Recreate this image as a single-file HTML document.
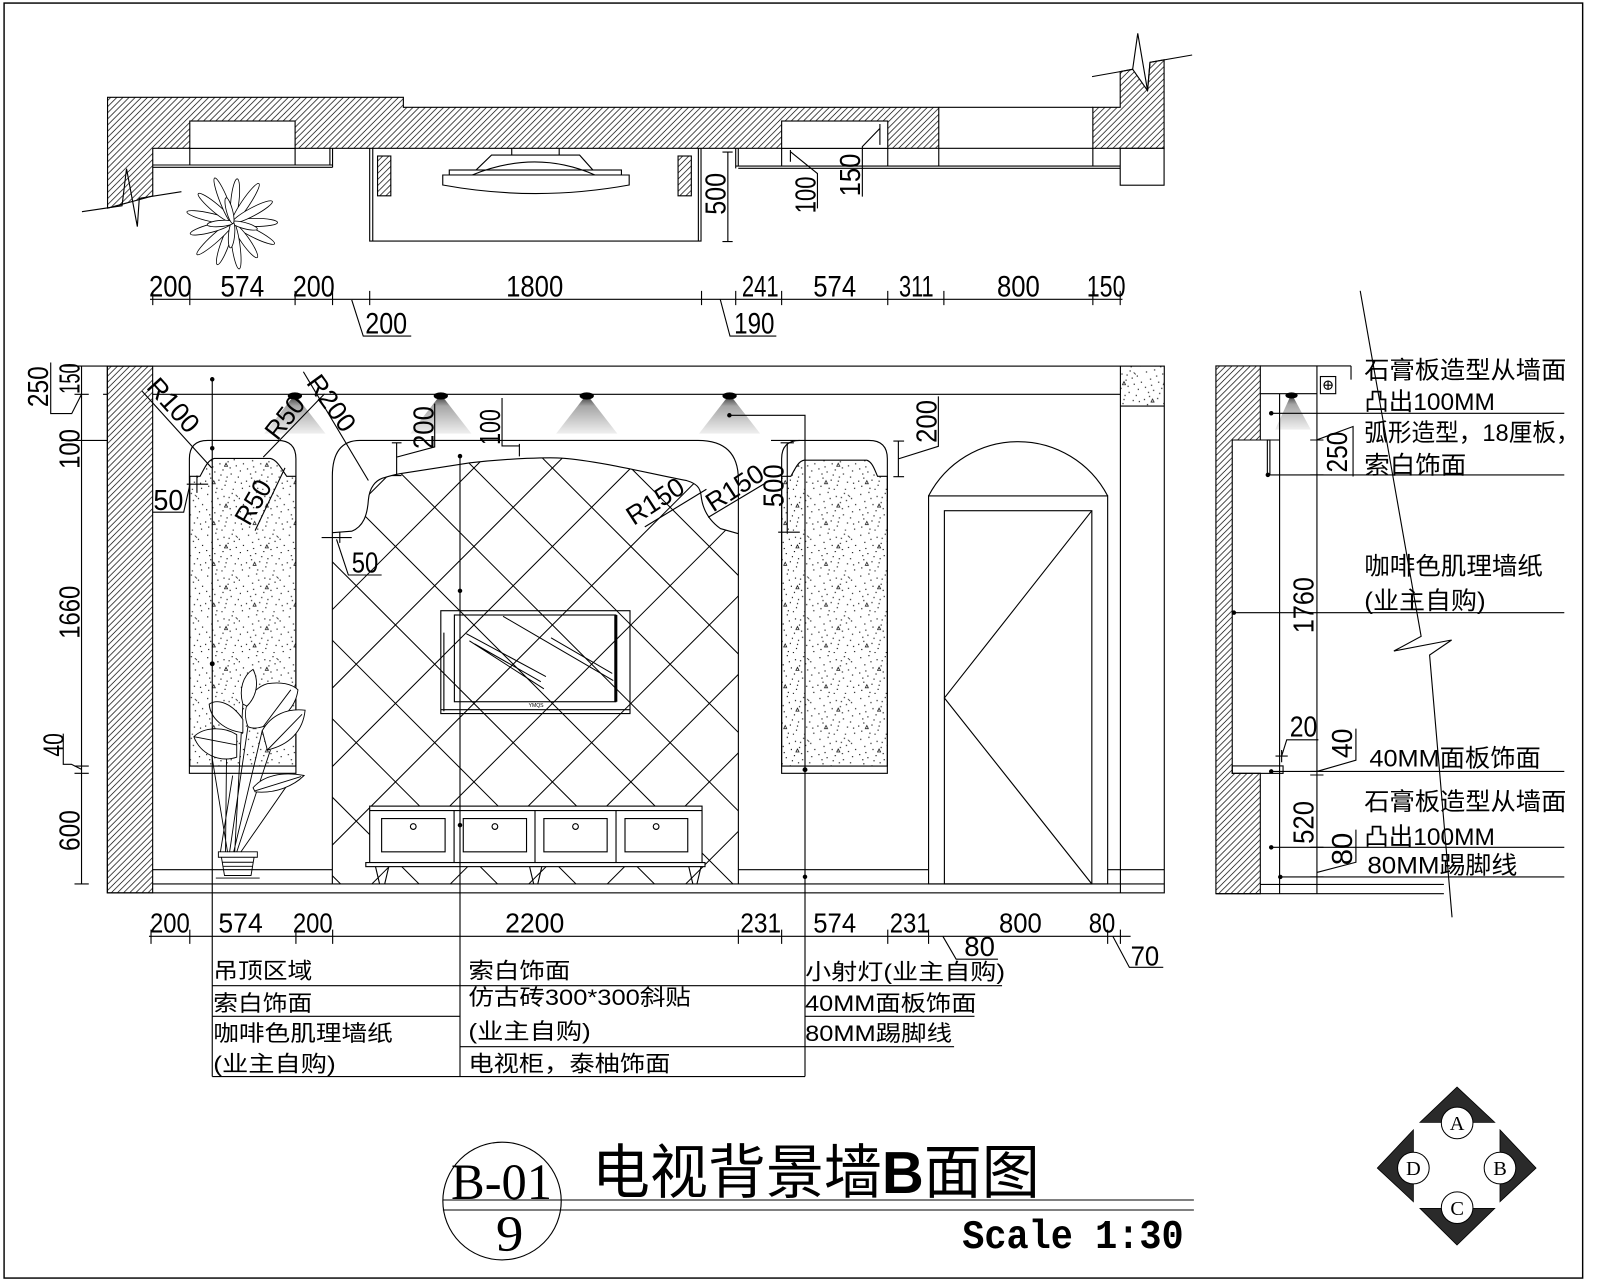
<!DOCTYPE html>
<html><head><meta charset="utf-8">
<style>
html,body{margin:0;padding:0;background:#fff;}
svg{display:block;}
text{font-family:"Liberation Sans","Noto Sans CJK SC",sans-serif;fill:#000;stroke:none;}
.cj{font-family:"Liberation Sans","Noto Sans CJK SC",sans-serif;}
</style></head><body>
<svg width="1600" height="1280" viewBox="0 0 1568 1254.4" preserveAspectRatio="none" xmlns="http://www.w3.org/2000/svg">
<defs>
<pattern id="h" width="6" height="6" patternUnits="userSpaceOnUse"><path d="M-1,1L1,-1M0,6L6,0M5,7L7,5" stroke="#000" stroke-width="0.7" fill="none"/></pattern>
<pattern id="st" width="40" height="40" patternUnits="userSpaceOnUse">
<g fill="#000">
<rect x="3" y="4" width="1.1" height="1.1"/><rect x="11" y="2" width="1.1" height="1.1"/><rect x="19" y="6" width="1.1" height="1.1"/><rect x="27" y="3" width="1.1" height="1.1"/><rect x="34" y="8" width="1.1" height="1.1"/><rect x="7" y="11" width="1.1" height="1.1"/><rect x="15" y="14" width="1.1" height="1.1"/><rect x="23" y="12" width="1.1" height="1.1"/><rect x="31" y="16" width="1.1" height="1.1"/><rect x="2" y="19" width="1.1" height="1.1"/><rect x="10" y="22" width="1.1" height="1.1"/><rect x="18" y="20" width="1.1" height="1.1"/><rect x="26" y="24" width="1.1" height="1.1"/><rect x="35" y="21" width="1.1" height="1.1"/><rect x="6" y="28" width="1.1" height="1.1"/><rect x="14" y="30" width="1.1" height="1.1"/><rect x="22" y="27" width="1.1" height="1.1"/><rect x="30" y="32" width="1.1" height="1.1"/><rect x="4" y="36" width="1.1" height="1.1"/><rect x="12" y="38" width="1.1" height="1.1"/><rect x="20" y="35" width="1.1" height="1.1"/><rect x="28" y="39" width="1.1" height="1.1"/><rect x="36" y="33" width="1.1" height="1.1"/><rect x="8" y="17" width="1.1" height="1.1"/><rect x="24" y="7" width="1.1" height="1.1"/><rect x="16" y="25" width="1.1" height="1.1"/><rect x="33" y="27" width="1.1" height="1.1"/><rect x="1" y="31" width="1.1" height="1.1"/><rect x="17" y="39" width="1.1" height="1.1"/><rect x="29" y="10" width="1.1" height="1.1"/><rect x="38" y="14" width="1.1" height="1.1"/><rect x="13" y="8" width="1.1" height="1.1"/><rect x="25" y="18" width="1.1" height="1.1"/><rect x="37" y="38" width="1.1" height="1.1"/><rect x="5" y="24" width="1.1" height="1.1"/><rect x="21" y="31" width="1.1" height="1.1"/>
</g>
<path d="M20,17l3,0l-1.5,-3zM8,34l3,0l-1.5,-3zM31,5l2,2" fill="none" stroke="#000" stroke-width="0.7"/>
</pattern>
<linearGradient id="cg" x1="0" y1="0" x2="0" y2="1"><stop offset="0" stop-color="#000" stop-opacity="0.85"/><stop offset="0.3" stop-color="#000" stop-opacity="0.35"/><stop offset="1" stop-color="#000" stop-opacity="0.06"/></linearGradient>
<clipPath id="tc"><path d="M325.7,866.3 L325.7,522 L344.7,520.6 C356,516 360,505 361,490 C362,478 368,470 377,468 C383,466 388,465 392,464.2 L460.6,453.6 C500,449 540,448 551,449 C590,452 640,465 673,471 C683,474 686,478 687,485 C688,496 692,508 706,518 L723.6,523 L723.6,866.3 Z"/></clipPath>
</defs>

<rect x="0" y="0" width="1568" height="1254.4" fill="#fff"/>
<!-- border -->
<rect x="4" y="3" width="1547" height="1249.5" fill="none" stroke="#000" stroke-width="1.4"/>

<g fill="none" stroke="#000" stroke-width="1.1">
<!-- ================= TOP PLAN ================= -->
<path d="M105.4,95.4 H395.3 V105.2 H920 V145.4 H149.7 V192 L105.4,204 Z" fill="url(#h)"/>
<path d="M1071,105.2 H1097.8 V70.2 L1110,67.9 L1124.6,88.8 L1127,61.1 L1140.8,58.6 V145.4 H1071 Z" fill="url(#h)"/>
<path d="M920,105.2 H1071 M920,145.4 H1071"/>
<rect x="186" y="118.6" width="103.2" height="26.8" fill="#fff"/>
<rect x="766" y="118.6" width="104" height="26.8" fill="#fff"/>
<rect x="1097.8" y="145.4" width="43" height="36.1" fill="#fff"/>
<path d="M80.3,207.4 L119.6,201.6 L124,165.3 L134.6,222.1 L136.5,194.4 L177.8,187.9"/>
<path d="M1070.2,75.1 L1097.8,70.2 L1110,67.9 L1115,32.7 L1124.6,88.8 L1127,61.1 L1168.3,53.9"/>
<!-- left cabinet plan -->
<path d="M149.7,161.7 H325.9 M149.7,164 H325.9 M323.3,145.4 V161.7 M325.9,145.4 V164 M186,145.4 V161.7 M289.2,145.4 V161.7"/>
<!-- right cabinet plan -->
<path d="M721,162.7 H1097.8 M723.5,165 H1097.8 M721,145.4 V165 M723.5,145.4 V162.7 M766,145.4 V162.7 M870,145.4 V162.7 M920,145.4 V162.7 M1071,145.4 V162.7"/>
<!-- tv unit plan -->
<path d="M362.3,145.4 V236.3 H687 V145.4 M365.3,145.4 V236.3 M684.4,145.4 V236.3"/>
<path d="M501.5,145.4 V152 M548,145.4 V152 M481.7,152 H568 L581,166.6 H466.6 Z"/>
<rect x="440.3" y="166.6" width="168.7" height="4.9"/>
<path d="M433.9,171.5 H616.6 V181.3 Q525,198 433.9,181.3 Z" fill="#fff"/>
<path d="M462.8,171.5 Q525,146 583,171.5"/>
<rect x="370" y="152.9" width="13" height="39" fill="url(#h)"/>
<rect x="664.5" y="152.9" width="13" height="39" fill="url(#h)"/>
<!-- plan plant -->
<g transform="translate(228,218)" stroke-width="0.8" fill="#fff">
<ellipse cx="22" cy="0" rx="22" ry="4" transform="rotate(0)"/>
<ellipse cx="22" cy="0" rx="24" ry="4" transform="rotate(27)"/>
<ellipse cx="22" cy="0" rx="20" ry="4" transform="rotate(55)"/>
<ellipse cx="22" cy="0" rx="24" ry="4" transform="rotate(82)"/>
<ellipse cx="22" cy="0" rx="22" ry="4" transform="rotate(110)"/>
<ellipse cx="22" cy="0" rx="25" ry="4" transform="rotate(138)"/>
<ellipse cx="22" cy="0" rx="21" ry="4" transform="rotate(165)"/>
<ellipse cx="22" cy="0" rx="24" ry="4" transform="rotate(193)"/>
<ellipse cx="22" cy="0" rx="22" ry="4" transform="rotate(220)"/>
<ellipse cx="22" cy="0" rx="25" ry="4" transform="rotate(248)"/>
<ellipse cx="22" cy="0" rx="21" ry="4" transform="rotate(276)"/>
<ellipse cx="22" cy="0" rx="24" ry="4" transform="rotate(304)"/>
<ellipse cx="22" cy="0" rx="22" ry="4" transform="rotate(332)"/>
<ellipse cx="12" cy="0" rx="13" ry="3" transform="rotate(15)"/>
<ellipse cx="12" cy="0" rx="13" ry="3" transform="rotate(95)"/>
<ellipse cx="12" cy="0" rx="13" ry="3" transform="rotate(175)"/>
<ellipse cx="12" cy="0" rx="13" ry="3" transform="rotate(255)"/>
</g>
<!-- plan dims -->
<path d="M713.3,149 V236.7 M708,149 H718 M708,236.7 H718"/>
<path d="M774.6,147 V158.5 M774.6,148.6 L801.1,170.1 V204.2"/>
<path d="M862.3,121.5 V142 M862.3,125.8 L845.1,143.7 V192.7"/>
<path d="M147,293.3 H1100"/>
<path d="M149.7,285 V299 M186,285 V299 M289.2,285 V299 M325.9,285 V299 M362.3,285 V299 M687.5,285 V299 M721,285 V299 M766,285 V299 M870,285 V299 M925,285 V299 M1071,285 V299 M1097.8,285 V299"/>
<path d="M344.7,293.9 L356,329.4 H403 M705.8,293.3 L715.4,329.4 H760.8"/>

<!-- ================= MAIN ELEVATION ================= -->
<!-- tiles -->
<g clip-path="url(#tc)" stroke-width="1">
<path d="M300,832.5L740,1272.5M300,755.6L740,1195.6M300,678.7L740,1118.7M300,601.8L740,1041.8M300,524.9L740,964.9M300,448L740,888M300,371.1L740,811.1M300,294.2L740,734.2M300,217.3L740,657.3M300,140.4L740,580.4M300,63.5L740,503.5"/>
<path d="M300,469.3L740,29.3M300,546.2L740,106.2M300,623.1L740,183.1M300,700L740,260M300,776.9L740,336.9M300,853.8L740,413.8M300,930.7L740,490.7M300,1007.6L740,567.6M300,1084.5L740,644.5M300,1161.4L740,721.4M300,1238.3L740,798.3"/>
</g>
<rect x="105.2" y="358.8" width="1035.8" height="516.2"/>
<rect x="105.2" y="358.8" width="44.4" height="516.2" fill="url(#h)"/>
<path d="M149.6,386.4 H1098 M1098,358.8 V875 M1098,398 H1141"/>
<rect x="1098" y="358.8" width="43" height="39.2" fill="url(#st)" stroke="none"/>
<path d="M149.6,866.3 H1141 M149.6,852.3 H325.7 M723.6,852.3 H910 M1085.5,852.3 H1141"/>
<!-- arch -->
<path d="M325.7,866.3 V466.8 Q325.7,431.6 352.8,431.6 H684 Q723.6,431.6 723.6,470 V866.3"/>
<path d="M325.7,522 L344.7,520.6 C356,516 360,505 361,490 C362,478 368,470 377,468 C383,466 388,465 392,464.2 L460.6,453.6 C500,449 540,448 551,449 C590,452 640,465 673,471 C683,474 686,478 687,485 C688,496 692,508 706,518 L723.6,523"/>
<!-- left column -->
<path d="M185.6,757.8 V449.6 Q185.6,431.6 203.6,431.6 H272 Q290,431.6 290,449.6 V757.8 Z"/>
<path d="M186,466.8 L196,466.8 C200,460 203,451 210,449.3 L265,449.3 C272,451 276,460 281,466.8 L290,466.8 V750.8 H186 Z" fill="url(#st)"/>
<!-- right column -->
<path d="M766,757.8 V449.6 Q766,431.6 784,431.6 H851.6 Q869.6,431.6 869.6,449.6 V757.8 Z"/>
<path d="M766,466.8 L775,466.8 C779,460 782,452 788,451 L849.5,451 C855,453 857,460 860,466.8 L869.6,466.8 V750.8 H766 Z" fill="url(#st)"/>
<!-- cones -->
<g stroke="none">
<polygon points="289,386.4 259,425 319,425" fill="url(#cg)"/>
<polygon points="432,386.4 402,425 462,425" fill="url(#cg)"/>
<polygon points="575,386.4 545,425 605,425" fill="url(#cg)"/>
<polygon points="715,386.4 685,425 745,425" fill="url(#cg)"/>
<polygon points="1265.7,385.8 1249.7,421 1284.6,421" fill="url(#cg)"/>
<g fill="#000">
<ellipse cx="289" cy="388" rx="7" ry="3.5"/><ellipse cx="432" cy="388" rx="7" ry="3.5"/><ellipse cx="575" cy="388" rx="7" ry="3.5"/><ellipse cx="715" cy="388" rx="7" ry="3.5"/><ellipse cx="1265.7" cy="387.5" rx="6" ry="3"/>
</g>
</g>
<!-- TV -->
<rect x="432" y="598.5" width="185.4" height="100.8"/>
<rect x="445.3" y="602.7" width="158.2" height="85"/>
<path d="M603.5,602.7 V687.7" stroke-width="3"/>
<path d="M432,695.5 H617.4 M435,620 V697"/>
<path d="M457,621 L535,663 M460,628 L533,675 M465,631 L530,668 M493,604 L601,667 M540,625 L600,660" stroke-width="1"/>
<!-- cabinet -->
<rect x="362.3" y="790" width="325.7" height="55.3" fill="#fff"/>
<path d="M362.3,794.4 H688 M445,794.4 V845.3 M524.3,794.4 V845.3 M603.7,794.4 V845.3"/>
<rect x="374" y="802.2" width="62.2" height="32.6"/>
<rect x="454" y="802.2" width="62" height="32.6"/>
<rect x="533" y="802.2" width="62" height="32.6"/>
<rect x="612.5" y="802.2" width="61.5" height="32.6"/>
<circle cx="405" cy="810" r="2.8"/><circle cx="485" cy="810" r="2.8"/><circle cx="564" cy="810" r="2.8"/><circle cx="643" cy="810" r="2.8"/>
<rect x="358.5" y="845.3" width="332.4" height="4" fill="#fff"/>
<path d="M368,849.3 L372,866.3 M381,849.3 L377,866.3 M519,849.3 L523,866.3 M531,849.3 L527,866.3 M675,849.3 L679,866.3 M687,849.3 L683,866.3"/>
<!-- door -->
<rect x="910" y="486" width="175.5" height="380.3"/>
<rect x="925.5" y="500.5" width="144.5" height="365.8"/>
<path d="M910,486 A99,99 0 0 1 1085.5,486"/>
<path d="M1070,500.5 L925.5,684 L1070,866.3"/>
<!-- plant elevation -->
<g stroke-width="0.9">
<path d="M216,835 L228,760 M221,835 L222,740 M225,835 L243,712 M229,835 L257,716 M232,835 L265,735 M236,835 L286,763 M223,835 L205,725 M230,835 L238,690" />
<path d="M243,712 C236,695 245,675 262,670 C275,668 286,670 292,676 C290,692 278,706 258,712 C252,714 246,714 243,712 Z" fill="#fff"/>
<path d="M258,712 L285,676"/>
<path d="M238,705 C228,690 214,684 205,690 C206,704 220,716 238,718 Z" fill="#fff"/>
<path d="M232,720 C220,712 200,712 190,722 C196,738 214,748 232,742 Z" fill="#fff"/>
<path d="M190,722 L232,730"/>
<path d="M257,716 C266,700 282,694 299,696 C297,716 284,730 262,735 Z" fill="#fff"/>
<path d="M262,735 L296,700"/>
<path d="M248,772 C258,760 276,756 298,760 C288,770 270,778 250,776 Z" fill="#fff"/>
<path d="M250,775 L295,761"/>
<path d="M238,690 C234,676 238,662 248,656 C254,668 252,682 242,692 Z" fill="#fff"/>
<path d="M214,834.8 H252.2 V840.1 H214 Z M217,840.1 L220,858 H246 L249,840.1 M218,845 H248 M219,849 H247 M211.5,860.5 H254.5" />
</g>
<!-- leaders -->
<path d="M208,371.7 V1055 M450.8,447 V1055 M714.8,407 H788.9 V1055"/>
<!-- left dims -->
<path d="M79.9,358.8 V866.3 M60,358.8 H105.2 M60,431.6 H105.2 M101,386.4 H105.2 M73,386.4 H87 M73,750.8 H87 M73,757.8 H87 M73,866.3 H87"/>
<path d="M49.7,355.2 V405.3 H70.3 L79.9,386.4"/>
<path d="M62,719 V749 H70 L79.9,754"/>
<!-- elevation R leaders and small dims -->
<path d="M139.2,383.3 L207.4,458.5"/>
<path d="M258,448 L318,386"/>
<path d="M297.3,364.3 L361,470.9"/>
<path d="M279.3,458.5 L250,520"/>
<path d="M631.9,516.3 L692.3,479.5"/>
<path d="M694,507 L751.7,472.5"/>
<path d="M149.6,502 H180 L186.2,474.5 M183,474.5 H204 M193,466 V483"/>
<path d="M315.2,526.8 H344.7 M333,521 V532 M329.8,528.5 L341.4,563.5 H374"/>
<path d="M388.7,433.9 V466 M384,433.9 H393.5 M384,466 H393.5 M388.7,448 L426,438 V395.5"/>
<path d="M492,390 V437 H509 M509,435 V447.2"/>
<path d="M771.5,434 V521.5 M765,434 H778 M762.6,521.5 H783.8 M755.6,431.6 H783.8"/>
<path d="M880.4,432.2 V467.2 M875.5,432.2 H886 M875.5,467.2 H886 M880.4,449.7 L919.6,437.4 V388.5"/>
<!-- bottom dims -->
<path d="M146,917.6 H1108"/>
<path d="M148,911 V925 M186,911 V925 M290,911 V925 M326,911 V925 M723.6,911 V925 M766,911 V925 M870,911 V925 M910,911 V925 M1085.5,911 V925 M1098,911 V925"/>
<path d="M924,917.6 L937,940 H978 M1090.6,917.6 L1106.8,948 H1140"/>
<!-- table lines -->
<path d="M208,966 H982 M208,996 H450.8 M788.9,996 H955 M450.8,1025.7 H935 M208,1055 H788.9"/>

<!-- ================= RIGHT SECTION ================= -->
<path d="M1191.6,358.6 H1235.1 V431.2 H1207.6 V757.9 H1235.1 V875.8 H1191.6 Z" fill="url(#h)"/>
<path d="M1235.1,358.6 H1324 M1235.1,385.8 H1290.6 V358.6 M1324,358.6 V372"/>
<rect x="1294" y="369" width="15" height="16.8"/>
<circle cx="1301.5" cy="377.5" r="4"/>
<path d="M1297,377.5 H1306 M1301.5,373 V382"/>
<path d="M1254,385.8 V875.8 M1290.6,385.8 V875.8 M1207.6,431.2 H1254"/>
<rect x="1242" y="431.2" width="2.5" height="34"/>
<rect x="1207.6" y="750.6" width="49.8" height="7.3"/>
<path d="M1235.1,866.8 H1415 M1191.6,875.8 H1415"/>
<path d="M1245.8,405 H1533 M1242.5,465.4 H1533 M1209.2,600.4 H1533 M1245.8,756 H1533 M1245.8,830.4 H1533 M1254.7,859.4 H1533"/>
<path d="M1284,431.2 H1297 M1284,465.4 H1297 M1284,756 H1297 M1284,759.5 H1297 M1284,830.4 H1297 M1284,859.4 H1297"/>
<path d="M1290.6,431 L1326,418 V467"/>
<path d="M1290.6,756 L1328.8,745 V714"/>
<path d="M1290.6,855 L1328.8,845 V813"/>
<path d="M1256,741 L1261,725 H1292 M1250,741 H1262 M1256,735 V747"/>
<path d="M1333,285 L1392.7,623.6 L1366,638 L1422.6,627.2 L1401,641.9 L1423,899"/>

<!-- ================= TITLE ================= -->
<ellipse cx="492" cy="1177" rx="58" ry="57.7"/>
<path d="M434,1176 H1170 M434,1185.8 H1170"/>
</g>

<!-- dots -->
<g fill="#000">
<circle cx="208" cy="371.7" r="2.2"/><circle cx="208" cy="439.3" r="2.2"/><circle cx="208" cy="650.5" r="2.4"/>
<circle cx="450.8" cy="447" r="2.2"/><circle cx="450.8" cy="579" r="2.2"/><circle cx="450.8" cy="808.6" r="2.2"/>
<circle cx="714.8" cy="407" r="2.2"/><circle cx="788.9" cy="754.3" r="2.4"/><circle cx="788.9" cy="859.3" r="2.2"/>
<circle cx="1245.8" cy="405" r="2.2"/><circle cx="1242.5" cy="465.4" r="2.2"/><circle cx="1209.2" cy="600.4" r="2.2"/><circle cx="1245.8" cy="756" r="2.2"/><circle cx="1245.8" cy="830.4" r="2.2"/><circle cx="1254.7" cy="859.4" r="2.2"/>
</g>

<!-- compass -->
<g fill="#2a2a2a" stroke="#000" stroke-width="0.8">
<polygon points="1427.9,1065.3 1464.8,1099.9 1391.6,1099.9"/>
<polygon points="1505.3,1144.7 1470,1107.3 1470,1177.6"/>
<polygon points="1427.9,1220.1 1464.8,1184.2 1391.6,1184.2"/>
<polygon points="1349.8,1144.7 1385.1,1107.3 1385.1,1177.6"/>
</g>
<g fill="#fff" stroke="#000" stroke-width="1">
<circle cx="1428" cy="1100.5" r="15.5"/><circle cx="1470" cy="1144.7" r="15.5"/><circle cx="1428" cy="1183.5" r="15.5"/><circle cx="1385.1" cy="1144.7" r="15.5"/>
</g>
<g font-family="Liberation Serif, serif" font-size="20" text-anchor="middle">
<text x="1428" y="1107.5" style="font-family:'Liberation Serif',serif">A</text>
<text x="1470" y="1151.7" style="font-family:'Liberation Serif',serif">B</text>
<text x="1428" y="1190.5" style="font-family:'Liberation Serif',serif">C</text>
<text x="1385.1" y="1151.7" style="font-family:'Liberation Serif',serif">D</text>
</g>

<!-- ================= TEXT ================= -->
<!-- top plan dims -->
<g font-size="29">
<text x="146" y="290.5" textLength="42" lengthAdjust="spacingAndGlyphs">200</text>
<text x="216" y="290.5" textLength="43" lengthAdjust="spacingAndGlyphs">574</text>
<text x="287" y="290.5" textLength="41" lengthAdjust="spacingAndGlyphs">200</text>
<text x="496" y="290.5" textLength="56" lengthAdjust="spacingAndGlyphs">1800</text>
<text x="727" y="290.5" textLength="36" lengthAdjust="spacingAndGlyphs">241</text>
<text x="797" y="290.5" textLength="42" lengthAdjust="spacingAndGlyphs">574</text>
<text x="881" y="290.5" textLength="34" lengthAdjust="spacingAndGlyphs">311</text>
<text x="977" y="290.5" textLength="42" lengthAdjust="spacingAndGlyphs">800</text>
<text x="1065" y="290.5" textLength="38" lengthAdjust="spacingAndGlyphs">150</text>
<text x="358" y="327" textLength="41" lengthAdjust="spacingAndGlyphs">200</text>
<text x="719.5" y="327" textLength="39.5" lengthAdjust="spacingAndGlyphs">190</text>
</g>
<g font-size="28" text-anchor="middle">
<text transform="translate(711,190) rotate(-90)" textLength="41" lengthAdjust="spacingAndGlyphs">500</text>
<text transform="translate(799,191) rotate(-90)" textLength="36" lengthAdjust="spacingAndGlyphs">100</text>
<text transform="translate(843,171.5) rotate(-90)" textLength="42" lengthAdjust="spacingAndGlyphs">150</text>
<!-- left dims -->
<text transform="translate(47,379) rotate(-90)" textLength="40" lengthAdjust="spacingAndGlyphs">250</text>
<text transform="translate(78,371) rotate(-90)" textLength="30" lengthAdjust="spacingAndGlyphs">150</text>
<text transform="translate(78,440) rotate(-90)" textLength="39" lengthAdjust="spacingAndGlyphs">100</text>
<text transform="translate(78,600) rotate(-90)" textLength="52" lengthAdjust="spacingAndGlyphs">1660</text>
<text transform="translate(62,730) rotate(-90)" textLength="23" lengthAdjust="spacingAndGlyphs">40</text>
<text transform="translate(78,814) rotate(-90)" textLength="40" lengthAdjust="spacingAndGlyphs">600</text>
<!-- elevation -->
<text transform="translate(424.6,419) rotate(-90)" textLength="42" lengthAdjust="spacingAndGlyphs">200</text>
<text transform="translate(490,418.5) rotate(-90)" textLength="35" lengthAdjust="spacingAndGlyphs">100</text>
<text transform="translate(767.8,476) rotate(-90)" textLength="42" lengthAdjust="spacingAndGlyphs">500</text>
<text transform="translate(918,413) rotate(-90)" textLength="42" lengthAdjust="spacingAndGlyphs">200</text>
<!-- right section -->
<text transform="translate(1320,443) rotate(-90)" textLength="40" lengthAdjust="spacingAndGlyphs">250</text>
<text transform="translate(1287,593) rotate(-90)" textLength="55" lengthAdjust="spacingAndGlyphs">1760</text>
<text transform="translate(1325,728.5) rotate(-90)" textLength="29" lengthAdjust="spacingAndGlyphs">40</text>
<text transform="translate(1287,806) rotate(-90)" textLength="42" lengthAdjust="spacingAndGlyphs">520</text>
<text transform="translate(1325,832) rotate(-90)" textLength="32" lengthAdjust="spacingAndGlyphs">80</text>
</g>
<g font-size="26" text-anchor="middle">
<text transform="translate(170,397) rotate(48)" dy="9" textLength="62" lengthAdjust="spacingAndGlyphs">R100</text>
<text transform="translate(279,409) rotate(-52)" dy="9" textLength="46" lengthAdjust="spacingAndGlyphs">R50</text>
<text transform="translate(325,395) rotate(54)" dy="9" textLength="62" lengthAdjust="spacingAndGlyphs">R200</text>
<text transform="translate(248,492) rotate(-60)" dy="9" textLength="46" lengthAdjust="spacingAndGlyphs">R50</text>
<text transform="translate(642,491) rotate(-33)" dy="9" textLength="62" lengthAdjust="spacingAndGlyphs">R150</text>
<text transform="translate(720,478) rotate(-33)" dy="9" textLength="62" lengthAdjust="spacingAndGlyphs">R150</text>
</g>
<g font-size="28">
<text x="150.3" y="500" textLength="29.4" lengthAdjust="spacingAndGlyphs">50</text>
<text x="344.7" y="561" textLength="26" lengthAdjust="spacingAndGlyphs">50</text>
<text x="1264" y="722" textLength="27" lengthAdjust="spacingAndGlyphs">20</text>
</g>
<text x="518" y="693" font-size="5">YMQS</text>
<!-- bottom dims -->
<g font-size="27">
<text x="147" y="914" textLength="39" lengthAdjust="spacingAndGlyphs">200</text>
<text x="214" y="914" textLength="43.5" lengthAdjust="spacingAndGlyphs">574</text>
<text x="287" y="914" textLength="39" lengthAdjust="spacingAndGlyphs">200</text>
<text x="495" y="914" textLength="58" lengthAdjust="spacingAndGlyphs">2200</text>
<text x="725.5" y="914" textLength="40" lengthAdjust="spacingAndGlyphs">231</text>
<text x="797" y="914" textLength="42" lengthAdjust="spacingAndGlyphs">574</text>
<text x="872" y="914" textLength="39" lengthAdjust="spacingAndGlyphs">231</text>
<text x="979" y="914" textLength="42" lengthAdjust="spacingAndGlyphs">800</text>
<text x="1067" y="914" textLength="26" lengthAdjust="spacingAndGlyphs">80</text>
<text x="945" y="937" textLength="30" lengthAdjust="spacingAndGlyphs">80</text>
<text x="1108" y="946" textLength="28" lengthAdjust="spacingAndGlyphs">70</text>
</g>
<!-- table text -->
<g font-size="22" class="cj">
<text x="209" y="959" textLength="97" lengthAdjust="spacingAndGlyphs">吊顶区域</text>
<text x="209" y="991" textLength="97" lengthAdjust="spacingAndGlyphs">索白饰面</text>
<text x="209" y="1020" textLength="176" lengthAdjust="spacingAndGlyphs">咖啡色肌理墙纸</text>
<text x="209" y="1050" textLength="120" lengthAdjust="spacingAndGlyphs">(业主自购)</text>
<text x="459" y="959" textLength="100" lengthAdjust="spacingAndGlyphs">索白饰面</text>
<text x="459" y="985" textLength="218" lengthAdjust="spacingAndGlyphs">仿古砖300*300斜贴</text>
<text x="459" y="1018" textLength="120" lengthAdjust="spacingAndGlyphs">(业主自购)</text>
<text x="459" y="1050" textLength="198" lengthAdjust="spacingAndGlyphs">电视柜，泰柚饰面</text>
<text x="789" y="960" textLength="196" lengthAdjust="spacingAndGlyphs">小射灯(业主自购)</text>
<text x="789" y="991" textLength="168" lengthAdjust="spacingAndGlyphs">40MM面板饰面</text>
<text x="789" y="1020" textLength="144" lengthAdjust="spacingAndGlyphs">80MM踢脚线</text>
</g>
<!-- right section text -->
<g font-size="24" class="cj">
<text x="1337" y="371" textLength="198" lengthAdjust="spacingAndGlyphs">石膏板造型从墙面</text>
<text x="1337" y="402" textLength="128" lengthAdjust="spacingAndGlyphs">凸出100MM</text>
<text x="1337" y="432" textLength="211" lengthAdjust="spacingAndGlyphs">弧形造型，18厘板，</text>
<text x="1337" y="464" textLength="100" lengthAdjust="spacingAndGlyphs">索白饰面</text>
<text x="1337" y="563" textLength="175" lengthAdjust="spacingAndGlyphs">咖啡色肌理墙纸</text>
<text x="1337" y="597" textLength="119" lengthAdjust="spacingAndGlyphs">(业主自购)</text>
<text x="1342" y="751" textLength="168" lengthAdjust="spacingAndGlyphs">40MM面板饰面</text>
<text x="1337" y="794" textLength="198" lengthAdjust="spacingAndGlyphs">石膏板造型从墙面</text>
<text x="1337" y="828" textLength="128" lengthAdjust="spacingAndGlyphs">凸出100MM</text>
<text x="1340" y="856" textLength="147" lengthAdjust="spacingAndGlyphs">80MM踢脚线</text>
</g>
<!-- title -->
<text x="442" y="1175" font-size="50" textLength="99" lengthAdjust="spacingAndGlyphs" style="font-family:'Liberation Serif',serif">B-01</text>
<text x="486" y="1226" font-size="50" textLength="27" lengthAdjust="spacingAndGlyphs" style="font-family:'Liberation Serif',serif">9</text>
<text x="580" y="1169" font-size="58" textLength="439" lengthAdjust="spacingAndGlyphs">电视背景墙<tspan font-weight="bold" style="font-family:'Liberation Sans',sans-serif">B</tspan>面图</text>
<text x="943" y="1223" font-size="40" font-weight="bold" textLength="217" lengthAdjust="spacingAndGlyphs" style="font-family:'Liberation Mono',monospace">Scale 1:30</text>
</svg>
</body></html>
